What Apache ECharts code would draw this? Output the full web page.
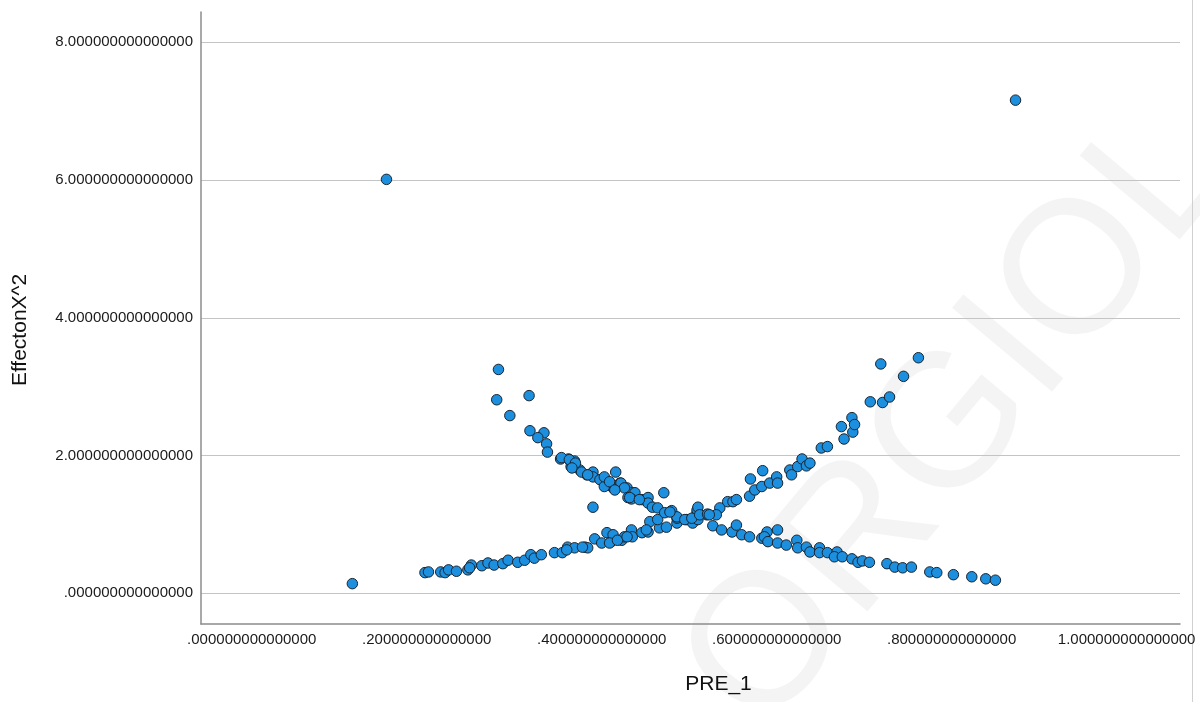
<!DOCTYPE html>
<html>
<head>
<meta charset="utf-8">
<script src="https://cdn.jsdelivr.net/npm/echarts@6/dist/echarts.min.js"></script>
<style>
    html, body { margin: 0; padding: 0; background: #fff; }
    #chart { width: 1200px; height: 702px; }
</style>
</head>
<body>
<div id="chart"></div>
<script>
// PRE_1 (x) and EffectonX^2 (y)
var pre1 = [
    0.115, 0.154, 0.873, 0.390, 0.416, 0.471,
    0.198, 0.202, 0.216, 0.221, 0.225, 0.234, 0.247, 0.251, 0.249, 0.263,
    0.270, 0.277, 0.287, 0.293, 0.304, 0.312, 0.319, 0.323, 0.331, 0.346,
    0.355, 0.361, 0.369, 0.381, 0.384, 0.392, 0.400, 0.406, 0.411, 0.413,
    0.423, 0.426, 0.434, 0.435, 0.446, 0.453, 0.455, 0.466, 0.464, 0.474,
    0.486, 0.497, 0.509, 0.360, 0.378, 0.409, 0.418, 0.429, 0.451, 0.486,
    0.504, 0.510, 0.509, 0.520, 0.535, 0.544, 0.550, 0.554, 0.569, 0.575,
    0.583, 0.592, 0.600, 0.601, 0.570, 0.584, 0.615, 0.617, 0.624, 0.629,
    0.634, 0.638, 0.651, 0.658, 0.677, 0.674, 0.687, 0.686, 0.689, 0.707,
    0.721, 0.729, 0.719, 0.745, 0.762,
    0.282, 0.280, 0.317, 0.295, 0.318, 0.334, 0.327, 0.337, 0.338, 0.353,
    0.362, 0.369, 0.365, 0.375, 0.383, 0.390, 0.390, 0.399, 0.406, 0.413,
    0.421, 0.429, 0.435, 0.354, 0.363, 0.370, 0.366, 0.377, 0.384, 0.398,
    0.407, 0.403, 0.422, 0.426, 0.430, 0.438, 0.434, 0.446, 0.453, 0.453,
    0.458, 0.464, 0.472, 0.480, 0.486, 0.495, 0.503, 0.510, 0.512, 0.521,
    0.531, 0.403, 0.409, 0.415, 0.432, 0.443, 0.478, 0.523, 0.527, 0.537,
    0.549, 0.554, 0.560, 0.569, 0.583, 0.589, 0.586, 0.590, 0.601, 0.601,
    0.611, 0.623, 0.624, 0.634, 0.638, 0.649, 0.649, 0.658, 0.669, 0.666,
    0.675, 0.686, 0.693, 0.698, 0.706, 0.726, 0.735, 0.744, 0.754, 0.775,
    0.783, 0.802, 0.823, 0.839, 0.850
];
var effectX2 = [
    0.14, 6.01, 7.16, 1.25, 1.76, 1.46,
    0.30, 0.31, 0.31, 0.30, 0.34, 0.32, 0.34, 0.41, 0.37, 0.40,
    0.44, 0.41, 0.43, 0.48, 0.45, 0.48, 0.56, 0.51, 0.56, 0.59,
    0.59, 0.67, 0.66, 0.67, 0.66, 0.79, 0.73, 0.88, 0.75, 0.85,
    0.77, 0.82, 0.92, 0.82, 0.88, 0.89, 1.04, 0.95, 1.07, 0.96,
    1.02, 1.07, 1.17, 0.63, 0.67, 0.73, 0.77, 0.82, 0.92, 1.09,
    1.02, 1.07, 1.21, 1.14, 1.24, 1.33, 1.33, 1.36, 1.41, 1.50,
    1.55, 1.60, 1.69, 1.60, 1.66, 1.78, 1.79, 1.72, 1.84, 1.95,
    1.85, 1.89, 2.11, 2.13, 2.24, 2.42, 2.34, 2.55, 2.45, 2.78,
    2.77, 2.85, 3.33, 3.15, 3.42,
    3.25, 2.81, 2.87, 2.58, 2.36, 2.33, 2.26, 2.17, 2.05, 1.95,
    1.95, 1.92, 1.84, 1.79, 1.72, 1.76, 1.69, 1.65, 1.60, 1.53,
    1.60, 1.53, 1.46, 1.97, 1.94, 1.89, 1.82, 1.76, 1.72, 1.65,
    1.60, 1.55, 1.60, 1.53, 1.39, 1.46, 1.37, 1.36, 1.39, 1.31,
    1.25, 1.24, 1.17, 1.20, 1.11, 1.07, 1.09, 1.25, 1.14, 1.15,
    1.14, 1.69, 1.62, 1.50, 1.39, 1.36, 1.18, 1.14, 0.98, 0.92,
    0.89, 0.99, 0.85, 0.82, 0.80, 0.89, 0.82, 0.75, 0.92, 0.73,
    0.70, 0.77, 0.66, 0.67, 0.60, 0.66, 0.59, 0.59, 0.60, 0.53,
    0.53, 0.50, 0.45, 0.47, 0.45, 0.43, 0.38, 0.37, 0.38, 0.31,
    0.30, 0.27, 0.24, 0.21, 0.19
];
var xTicks = [0, 0.2, 0.4, 0.6, 0.8, 1.0];
var yTicks = [0, 2, 4, 6, 8];

// spss style: 15 decimals, no leading zero
function spssFmt(v) {
    var s = Number(v).toFixed(15);
    if (s.indexOf('0.') === 0) s = s.substring(1);
    return s;
}

var points = [];
for (var i = 0; i < pre1.length; i++) {
    points.push([pre1[i], effectX2[i]]);
}

var myChart = echarts.init(document.getElementById('chart'));
var option = {
    animation: false,
    backgroundColor: '#ffffff',
    textStyle: { fontFamily: 'Liberation Sans, Arial, sans-serif' },
    grid: { left: 201, right: 20, top: 12, bottom: 78 },
    xAxis: {
        type: 'value',
        min: -0.058,
        max: 1.061,
        name: 'PRE_1',
        nameLocation: 'middle',
        nameGap: 50,
        nameTextStyle: { fontSize: 21, color: '#111', padding: [0, 0, 0, 56] },
        axisLine: { show: true, onZero: false, lineStyle: { color: '#8c8c8c', width: 1.5 } },
        axisTick: { show: false, customValues: xTicks },
        axisLabel: {
            customValues: xTicks,
            fontSize: 15,
            color: '#1a1a1a',
            margin: 8,
            formatter: spssFmt
        },
        splitLine: { show: false }
    },
    yAxis: {
        type: 'value',
        min: -0.446,
        max: 8.44,
        name: 'EffectonX^2',
        nameLocation: 'middle',
        nameGap: 170,
        nameTextStyle: { fontSize: 21, color: '#111', padding: [0, 24, 0, 0] },
        axisLine: { show: true, onZero: false, lineStyle: { color: '#8c8c8c', width: 1.5 } },
        axisTick: { show: false, customValues: yTicks },
        axisLabel: {
            customValues: yTicks,
            fontSize: 15,
            color: '#1a1a1a',
            margin: 8,
            formatter: spssFmt
        },
        splitLine: { show: true, lineStyle: { color: '#c4c4c4', width: 1.2 } }
    },
    graphic: [
        {
            type: 'text',
            x: 960,
            y: 420,
            rotation: 50 * Math.PI / 180,
            silent: true,
            z: -10,
            style: {
                text: 'ORGIOL',
                font: '190px Liberation Sans',
                fill: 'rgba(0,0,0,0.045)',
                align: 'center',
                verticalAlign: 'middle'
            }
        },
        {
            type: 'line',
            silent: true,
            shape: { x1: 1192.5, y1: 0, x2: 1192.5, y2: 702 },
            style: { stroke: '#d0d0d0', lineWidth: 1 }
        }
    ],
    series: [
        {
            type: 'scatter',
            data: points,
            symbol: 'circle',
            symbolSize: 10.5,
            itemStyle: {
                color: '#1c8fdf',
                borderColor: '#1a2530',
                borderWidth: 1,
                opacity: 1
            }
        }
    ]
};
myChart.setOption(option);
</script>
</body>
</html>
